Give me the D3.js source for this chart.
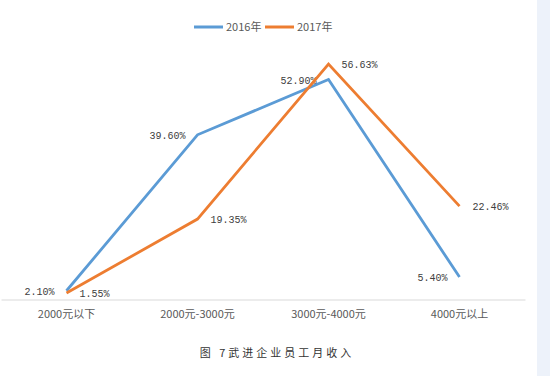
<!DOCTYPE html>
<meta charset="utf-8">
<script src="https://d3js.org/d3.v7.min.js"></script>
<style>
  body { margin: 0; background: #fff; }
</style>
<svg id="chart" width="550" height="376"></svg>
<script>
  // data
  const categories = ["2000元以下", "2000元-3000元", "3000元-4000元", "4000元以上"];
  const seriesNames = ["2016年", "2017年"];
  const values2016 = [2.10, 39.60, 52.90, 5.40];
  const values2017 = [1.55, 19.35, 56.63, 22.46];
  const colors = ["#5b9bd5", "#ed7d31"];

  const svg = d3.select("#chart"),
      width = +svg.attr("width"),
      height = +svg.attr("height");

  // light blue strip at the right edge of the page
  svg.append("rect")
    .attr("x", 537).attr("y", 0)
    .attr("width", width - 537).attr("height", height)
    .attr("fill", "#edf2fa");

  const x = d3.scaleBand()
    .domain(categories)
    .range([1, 525]);

  const y = d3.scaleLinear()
    .domain([0, 60])
    .range([299.5, 50]);

  // category axis
  const xAxis = svg.append("g")
    .attr("transform", "translate(0," + y(0) + ")")
    .call(d3.axisBottom(x).tickSize(0).tickPadding(11));
  xAxis.select(".domain").attr("stroke", "#d9d9d9");
  xAxis.selectAll("text")
    .attr("fill", "#595959")
    .style("font-family", "'Noto Sans CJK SC', sans-serif")
    .style("font-size", "11px");

  const line = d3.line()
    .x((d, i) => x(categories[i]) + x.bandwidth() / 2)
    .y(d => y(d));

  const series = [values2016, values2017];

  series.forEach(function(vals, s) {
    svg.append("path")
      .datum(vals)
      .attr("fill", "none")
      .attr("stroke", colors[s])
      .attr("stroke-width", 2.8)
      .attr("stroke-linejoin", "miter")
      .attr("d", line);

    // data labels: 2016 on the left, 2017 on the right
    svg.append("g")
      .selectAll("text")
      .data(vals)
      .join("text")
      .attr("x", (d, i) => x(categories[i]) + x.bandwidth() / 2 + (s === 0 ? -12 : 13))
      .attr("y", d => y(d) + 4)
      .attr("text-anchor", s === 0 ? "end" : "start")
      .attr("fill", "#404040")
      .style("font-family", "'Liberation Mono', monospace")
      .style("font-size", "10px")
      .text(d => d.toFixed(2) + "%");
  });

  // legend
  const legend = svg.append("g");
  const legendX = [194, 265];
  seriesNames.forEach(function(name, s) {
    legend.append("line")
      .attr("x1", legendX[s]).attr("x2", legendX[s] + 29)
      .attr("y1", 27).attr("y2", 27)
      .attr("stroke", colors[s])
      .attr("stroke-width", 3);
    legend.append("text")
      .attr("x", legendX[s] + 32)
      .attr("y", 31)
      .attr("fill", "#595959")
      .style("font-family", "'Noto Sans CJK SC', sans-serif")
      .style("font-size", "11px")
      .text(name);
  });

  // caption
  svg.append("text")
    .attr("x", 277)
    .attr("y", 357)
    .attr("text-anchor", "middle")
    .attr("fill", "#333")
    .style("font-family", "'Noto Sans CJK SC', sans-serif")
    .style("font-size", "11px")
    .style("letter-spacing", "3px")
    .text("图 7武进企业员工月收入");
</script>
